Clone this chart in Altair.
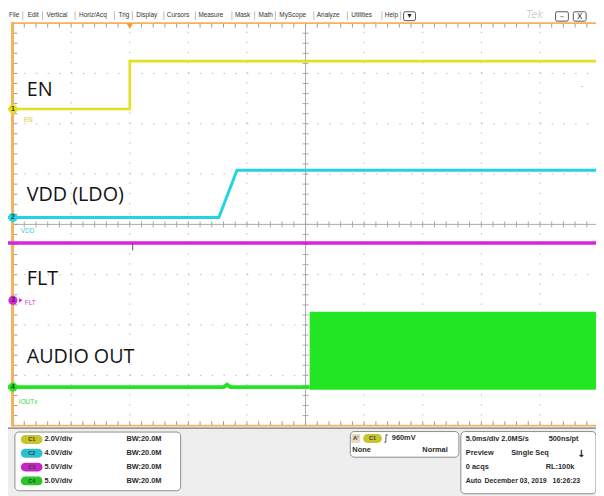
import altair as alt
import pandas as pd

# ---------------- waveform data (time in ms, trigger at t = 0, 5.0 ms/div; level in volts) ----------------
en_t = [-10.4, 0.0, 0.0, 39.8]
en_v = [0.0, 0.0, 1.9, 1.9]
vdd_t = [-10.4, 7.6, 9.15, 39.8]
vdd_v = [0.0, 0.0, 3.75, 3.75]
flt_t = [-10.4, 39.8]
flt_v = [5.7, 5.7]
flt_glitch_t = [0.25]
flt_glitch_v = [4.95]
out_t = [-10.4, 8.0, 8.3, 8.6, 15.35]
out_v = [0.0, 0.0, 0.25, 0.0, 0.0]
burst_t = [15.35, 39.8]
burst_v = [-0.25, 7.5]

channels = ["EN", "VDD (LDO)", "FLT", "AUDIO OUT"]
ch_short = ["EN", "VDD", "FLT", "IOUTx"]
ch_ids = ["C1", "C2", "C3", "C4"]
ch_num = ["1", "2", "3", "4"]
v_per_div = [2.0, 4.0, 5.0, 5.0]
ground_div = [2.294, 0.137, -1.51, -3.235]   # ground marker, divisions from screen centre
ch_scale_txt = ["2.0V/div", "4.0V/div", "5.0V/div", "5.0V/div"]
bw_txt = ["BW:20.0M", "BW:20.0M", "BW:20.0M", "BW:20.0M"]

menu_items = ["File", "Edit", "Vertical", "Horiz/Acq", "Trig", "Display", "Cursors",
              "Measure", "Mask", "Math", "MyScope", "Analyze", "Utilities", "Help"]
trig_txt = ["960mV", "None", "Normal"]
status_txt = ["5.0ms/div", "2.0MS/s", "500ns/pt", "Preview", "Single Seq",
              "0 acqs", "RL:100k", "Auto", "December 03, 2019", "16:26:23"]

# ---------------- styles / layout ----------------
ch_colors = ["#e4e01e", "#22d3e3", "#dc22dc", "#22e622"]
pill_colors = ["#c8c42c", "#2cbfd0", "#c426c6", "#28c428"]
label_colors = ["#cfcb3a", "#39c9d8", "#d03ad0", "#3ad83a"]
ORANGE = "#f2b35e"

PX_PER_MS = 59.4 / 5.0
def tx(p):  # page pixel x -> ms
    return -10.0 + (p - 12.6) / PX_PER_MS
def ty(p):  # page pixel y -> divisions from centre
    return (224.0 - p) / 51.0

XS = alt.Scale(domain=[tx(8), tx(604)], nice=False, zero=False)
YS = alt.Scale(domain=[ty(496), ty(8)], nice=False, zero=False)
def X(f): return alt.X(f, type="quantitative", scale=XS, axis=None)
def Y(f): return alt.Y(f, type="quantitative", scale=YS, axis=None)

def rules(rows, **kw):
    df = pd.DataFrame(rows, columns=["x", "x2", "y", "y2"])
    return alt.Chart(df).mark_rule(**kw).encode(x=X("x"), x2=alt.X2("x2"), y=Y("y"), y2=alt.Y2("y2"))

def rects(rows, **kw):
    df = pd.DataFrame(rows, columns=["x", "x2", "y", "y2"])
    return alt.Chart(df).mark_rect(**kw).encode(x=X("x"), x2=alt.X2("x2"), y=Y("y"), y2=alt.Y2("y2"))

def texts(items, **kw):
    df = pd.DataFrame(items, columns=["x", "y", "s"])
    return alt.Chart(df).mark_text(**kw).encode(x=X("x"), y=Y("y"), text="s:N")

layers = []

# bottom panel background
layers.append(rects([[tx(0), tx(620), ty(430), ty(500)]], fill="#eeeeee"))
layers.append(rules([[tx(0), tx(620), ty(430.5), ty(430.5)]], color="#5a5a5a", strokeWidth=1))

# graticule: dotted grid
L, R = -10.0, 40.0
grid_v = [[t, t, -4, 4] for t in [-5, 0, 5, 10, 20, 25, 30, 35]]
grid_h = [[L, R, d, d] for d in [-3, -2, -1, 1, 2, 3]]
layers.append(rules(grid_v, color="#bcbcbc", strokeWidth=1, strokeDash=[1.5, 8.7]))
layers.append(rules(grid_h, color="#bcbcbc", strokeWidth=1, strokeDash=[1.5, 10.38]))
# centre cross with minor ticks
layers.append(rules([[15, 15, -4, 4], [L, R, 0, 0]], color="#a9a9a9", strokeWidth=1))
minor_t = [L + i * 1.0 for i in range(1, 50)]
minor_d = [-4 + i * 0.2 for i in range(1, 40)]
ct = [[t, t, -0.06, 0.06] for t in minor_t] + [[15 - 0.25, 15 + 0.25, d, d] for d in minor_d]
layers.append(rules(ct, color="#a9a9a9", strokeWidth=1))
# border ticks
bt = [[t, t, 4, ty(24.5)] for t in minor_t] + [[t, t, -4, ty(423.5)] for t in minor_t] \
     + [[L, tx(17.5), d, d] for d in minor_d]
layers.append(rules(bt, color="#9a9a9a", strokeWidth=1))
# orange border
layers.append(rules([[L, R, 4, 4], [L, R, -4, -4]], color=ORANGE, strokeWidth=2))
layers.append(rules([[L, L, -4.02, 4.02]], color=ORANGE, strokeWidth=3))

# ---------------- traces ----------------
def trace(ts, vs, k, width):
    df = pd.DataFrame({"t": ts, "v": vs})
    df["i"] = range(len(df))
    df["d"] = ground_div[k] + df["v"] / v_per_div[k]
    return alt.Chart(df).mark_line(color=ch_colors[k], strokeWidth=width, strokeJoin="miter").encode(
        x=X("t"), y=Y("d"), order="i:Q")

layers.append(trace(en_t, en_v, 0, 2.6))
layers.append(trace(vdd_t, vdd_v, 1, 3.0))
layers.append(trace(flt_t, flt_v, 2, 3.5))
layers.append(rules([[flt_glitch_t[0], flt_glitch_t[0], ground_div[2] + flt_v[0] / 5.0,
                      ground_div[2] + flt_glitch_v[0] / 5.0]], color="#555555", strokeWidth=1))
layers.append(trace(out_t, out_v, 3, 4.0))
layers.append(rects([[burst_t[0], burst_t[1], ground_div[3] + burst_v[0] / 5.0,
                      ground_div[3] + burst_v[1] / 5.0]], color=ch_colors[3]))

# trigger position marker / trigger level marker
layers.append(alt.Chart(pd.DataFrame({"x": [0.0], "y": [ty(23)]})).mark_point(
    shape="triangle-down", filled=True, color="#f0a030", size=45, opacity=1).encode(x=X("x"), y=Y("y")))
layers.append(texts([[tx(590), ty(84), "-"]], color="#d8d400", fontSize=9, align="center", baseline="middle"))

# ground markers
mk = pd.DataFrame({"x": [tx(13)] * 4, "y": ground_div, "c": ch_colors, "s": ch_num})
layers.append(alt.Chart(mk).mark_circle(size=85, opacity=1).encode(
    x=X("x"), y=Y("y"), color=alt.Color("c:N", scale=None)))
layers.append(alt.Chart(mk).mark_text(fontSize=7, fontWeight="bold", color="#333333").encode(
    x=X("x"), y=Y("y"), text="s:N"))
layers.append(alt.Chart(pd.DataFrame({"x": [tx(21)], "y": [ground_div[2]]})).mark_point(
    shape="triangle-right", filled=True, color=ch_colors[2], size=18, opacity=1).encode(x=X("x"), y=Y("y")))

# small channel labels
sl = pd.DataFrame({"x": [tx(24), tx(21), tx(25), tx(19)], "y": [ty(118), ty(231), ty(304), ty(404)],
                   "s": ch_short, "c": label_colors})
layers.append(alt.Chart(sl).mark_text(align="left", baseline="middle", fontSize=6.5,
                                      font="Liberation Sans").encode(
    x=X("x"), y=Y("y"), text="s:N", color=alt.Color("c:N", scale=None)))

# big annotation labels
big_py = [94, 200, 285, 365]
layers.append(texts([[tx(27), ty(p), s] for p, s in zip(big_py, channels)],
                    align="left", baseline="alphabetic", font="Open Sans", fontSize=20, color="#141414"))

# ---------------- menu bar ----------------
menu_px = [9, 28, 47, 80, 120, 138, 169, 201, 238, 262, 283, 321, 356, 390]
menu_sep = [23, 43, 76, 116, 134, 166, 198, 235, 258, 279, 318, 352, 387, 406]
layers.append(texts([[tx(p), ty(11.5), s] for p, s in zip(menu_px, menu_items)],
                    align="left", baseline="middle", font="Liberation Sans", fontSize=6.5, color="#333333"))
layers.append(rules([[tx(p), tx(p), ty(8), ty(17)] for p in menu_sep], color="#bdbdbd", strokeWidth=1))
layers.append(rects([[tx(409), tx(421), ty(8.5), ty(17.5)], [tx(563), tx(576), ty(8.5), ty(18)],
                     [tx(581), tx(594), ty(8.5), ty(18)]],
                    fill="#ffffff", stroke="#555555", strokeWidth=1, cornerRadius=1.5))
layers.append(texts([[tx(415), ty(13), "▾"], [tx(569.5), ty(13.5), "–"], [tx(587.5), ty(13.5), "X"]],
                    align="center", baseline="middle", font="DejaVu Sans", fontSize=8, color="#222222"))
layers.append(texts([[tx(542), ty(12), "Tek"]], align="center", baseline="middle",
                    font="DejaVu Sans", fontSize=10, fontStyle="italic", color="#cfcfcf"))

# ---------------- status panel ----------------
layers.append(rects([[tx(15), tx(183), ty(434.5), ty(494)], [tx(355), tx(465), ty(434), ty(460)],
                     [tx(467), tx(604), ty(434), ty(497)]],
                    fill="#ffffff", stroke="#8c8c8c", strokeWidth=1, cornerRadius=4))
rows_py = [442, 456, 470, 484]
pills = pd.DataFrame({"x": [tx(21)] * 4 + [tx(368)], "x2": [tx(43)] * 4 + [tx(387)],
                      "y": [ty(p - 4.5) for p in rows_py] + [ty(436.5)],
                      "y2": [ty(p + 4.5) for p in rows_py] + [ty(445.5)],
                      "c": pill_colors + [pill_colors[0]]})
layers.append(alt.Chart(pills).mark_rect(cornerRadius=4.5).encode(
    x=X("x"), x2=alt.X2("x2"), y=Y("y"), y2=alt.Y2("y2"), color=alt.Color("c:N", scale=None)))
layers.append(texts([[tx(32), ty(p), s] for p, s in zip(rows_py, ch_ids)] + [[tx(377.5), ty(441), ch_ids[0]]],
                    align="center", baseline="middle", font="Liberation Sans", fontSize=5.5,
                    fontWeight="bold", color="#3a3a3a"))
layers.append(rects([[tx(356), tx(365), ty(436.5), ty(445.5)]], fill="#ead9b8"))
layers.append(texts([[tx(360.5), ty(441), "A'"]], align="center", baseline="middle",
                    font="Liberation Sans", fontSize=6, fontWeight="bold", color="#333333"))
layers.append(texts([[tx(391), ty(441), "∫"]], align="center", baseline="middle",
                    font="DejaVu Sans", fontSize=9, color="#222222"))

BOLD = dict(align="left", baseline="middle", font="Liberation Sans", fontSize=7.5,
            fontWeight="bold", color="#2b2b2b")
left_items = [[tx(45), ty(p), s] for p, s in zip(rows_py, ch_scale_txt)] + \
             [[tx(128), ty(p), s] for p, s in zip(rows_py, bw_txt)]
trig_items = [[tx(397), ty(441), trig_txt[0]], [tx(357), ty(453), trig_txt[1]], [tx(428), ty(453), trig_txt[2]]]
st_px = [472, 508, 556, 472, 518, 472, 553, 472, 491, 560]
st_py = [442, 442, 442, 456, 456, 470, 470, 484, 484, 484]
status_items = [[tx(x), ty(y), s] for x, y, s in zip(st_px, st_py, status_txt)]
layers.append(texts(left_items + trig_items + status_items[:7], **BOLD))
layers.append(texts(status_items[7:], **dict(BOLD, fontSize=7)))
layers.append(texts([[tx(589), ty(457), "↓"]], align="center", baseline="middle",
                    font="DejaVu Sans", fontSize=10, fontWeight="bold", color="#222222"))

chart = alt.layer(*layers).properties(
    width=596, height=488, padding=0,
    autosize=alt.AutoSizeParams(type="none"),
    background="#ffffff",
).configure_view(stroke=None)

chart.save("out.html", embed_options={"renderer": "svg", "actions": False})
